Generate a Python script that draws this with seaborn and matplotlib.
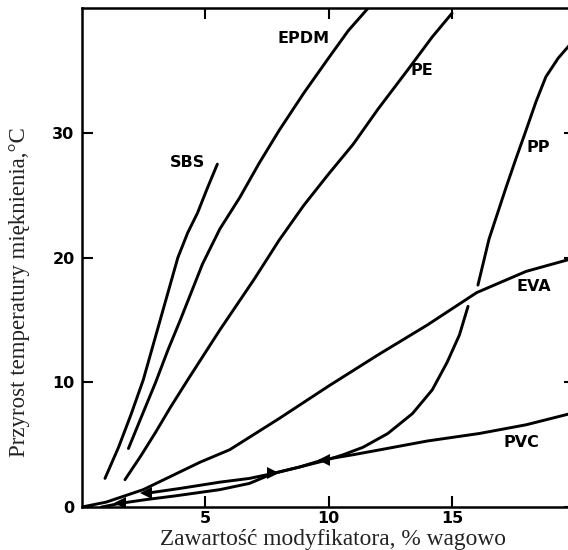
import matplotlib
matplotlib.use("Agg")
import pandas as pd
import matplotlib.pyplot as plt
import seaborn as sns

# values (modifier content %, softening point rise degC)
sbs_x = [0.95, 1.5, 2.0, 2.5, 3.0, 3.5, 3.9, 4.3, 4.7, 5.1, 5.5]
sbs_y = [2.3, 4.8, 7.4, 10.2, 13.7, 17.2, 20.0, 22.0, 23.6, 25.6, 27.5]

epdm_x = [1.9, 2.5, 3.0, 3.5, 4.0, 4.9, 5.6, 6.4, 7.2, 8.0, 9.0, 10.0, 10.8, 11.6]
epdm_y = [4.7, 7.6, 10.0, 12.6, 15.0, 19.5, 22.3, 24.8, 27.6, 30.2, 33.2, 36.0, 38.2, 40.0]

pe_x = [1.76, 2.4, 3.0, 3.6, 4.3, 5.6, 7.0, 8.0, 9.0, 10.0, 11.0, 12.0, 13.3, 14.2, 15.0]
pe_y = [2.2, 4.1, 6.0, 8.0, 10.2, 14.2, 18.3, 21.4, 24.2, 26.7, 29.1, 31.9, 35.3, 37.7, 39.6]

pp_low_x = [0.8, 1.56, 2.6, 3.8, 5.6, 6.8, 7.76, 8.8, 9.8, 10.6, 11.4, 12.4, 13.4, 14.2, 14.8, 15.3, 15.65]
pp_low_y = [0.0, 0.3, 0.6, 0.9, 1.4, 1.9, 2.7, 3.2, 3.7, 4.2, 4.8, 5.9, 7.5, 9.4, 11.6, 13.8, 16.1]
pp_up_x = [16.05, 16.5, 17.2, 17.6, 17.96, 18.4, 18.8, 19.3, 20.0]
pp_up_y = [17.8, 21.5, 25.7, 28.0, 30.0, 32.5, 34.5, 36.0, 37.6]

eva_x = [0.0, 1.0, 2.5, 4.8, 6.0, 8.0, 10.0, 12.0, 14.0, 16.0, 18.0, 20.0]
eva_y = [0.0, 0.4, 1.4, 3.6, 4.6, 7.1, 9.7, 12.2, 14.6, 17.2, 18.9, 20.0]

pvc_x = [2.6, 4.0, 5.6, 6.8, 7.76, 8.8, 9.8, 11.0, 12.1, 14.0, 16.1, 18.0, 20.0]
pvc_y = [1.1, 1.5, 2.0, 2.3, 2.7, 3.2, 3.8, 4.2, 4.6, 5.3, 5.9, 6.6, 7.6]

x_ticks = [5, 10, 15]
y_ticks = [0, 10, 20, 30]

curves = [
    ("SBS", sbs_x, sbs_y),
    ("EPDM", epdm_x, epdm_y),
    ("PE", pe_x, pe_y),
    ("PP_low", pp_low_x, pp_low_y),
    ("PP_up", pp_up_x, pp_up_y),
    ("EVA", eva_x, eva_y),
    ("PVC", pvc_x, pvc_y),
]
df = pd.concat(
    [pd.DataFrame({"curve": n, "x": xs, "y": ys}) for n, xs, ys in curves],
    ignore_index=True,
)

# small arrow heads on the PP / PVC curves: (xs, ys, index, marker)
arrow_heads = [
    (pp_low_x, pp_low_y, 1, "<"),
    (pvc_x, pvc_y, 0, "<"),
    (pvc_x, pvc_y, 4, ">"),
    (pvc_x, pvc_y, 6, "<"),
]

# label placement (data coords)
labels = {
    "SBS": (4.3, 27.6),
    "EPDM": (9.0, 37.6),
    "PE": (13.8, 35.0),
    "PP": (18.5, 28.8),
    "EVA": (18.3, 17.7),
    "PVC": (17.8, 5.2),
}

sns.set_style("ticks")

fig = plt.figure(figsize=(5.68, 5.5), dpi=100)
ax = fig.add_axes([0.1435, 0.078, 0.8697, 0.907])

for name in df["curve"].unique():
    sub = df[df["curve"] == name]
    sns.lineplot(data=sub, x="x", y="y", ax=ax, color="black", lw=2.1,
                 sort=False, estimator=None)

for xs, ys, i, m in arrow_heads:
    ax.plot(xs[i], ys[i], marker=m, ms=8, color="black", mew=0)

for txt, (lx, ly) in labels.items():
    ax.text(lx, ly, txt, ha="center", va="center", fontsize=11.5,
            fontweight="bold", family="DejaVu Sans", color="black")

ax.set_xlim(0, 20)
ax.set_ylim(0, 40)
ax.set_xticks(x_ticks)
ax.set_xticklabels([str(t) for t in x_ticks])
ax.set_yticks(y_ticks)
ax.set_yticklabels([str(t) for t in y_ticks])
ax.tick_params(direction="in", length=8, width=1.5, top=True, right=True,
               labelsize=11.5, pad=5, colors="black")
ax.tick_params(axis="x", pad=3)
for lab in ax.get_xticklabels() + ax.get_yticklabels():
    lab.set_fontweight("bold")
for sp in ax.spines.values():
    sp.set_linewidth(1.8)
    sp.set_color("black")

ax.set_xlabel("Zawartość modyfikatora, % wagowo", family="Liberation Serif",
              fontsize=16.8, color="#222222")
ax.set_ylabel("Przyrost temperatury mięknienia,°C", family="Liberation Serif",
              fontsize=16.5, color="#222222")
ax.xaxis.label.set_va("center")
ax.yaxis.label.set_va("center")
ax.xaxis.set_label_coords(0.51, -0.064)
ax.yaxis.set_label_coords(-0.125, 0.43)

fig.savefig("out.png", dpi=100)
